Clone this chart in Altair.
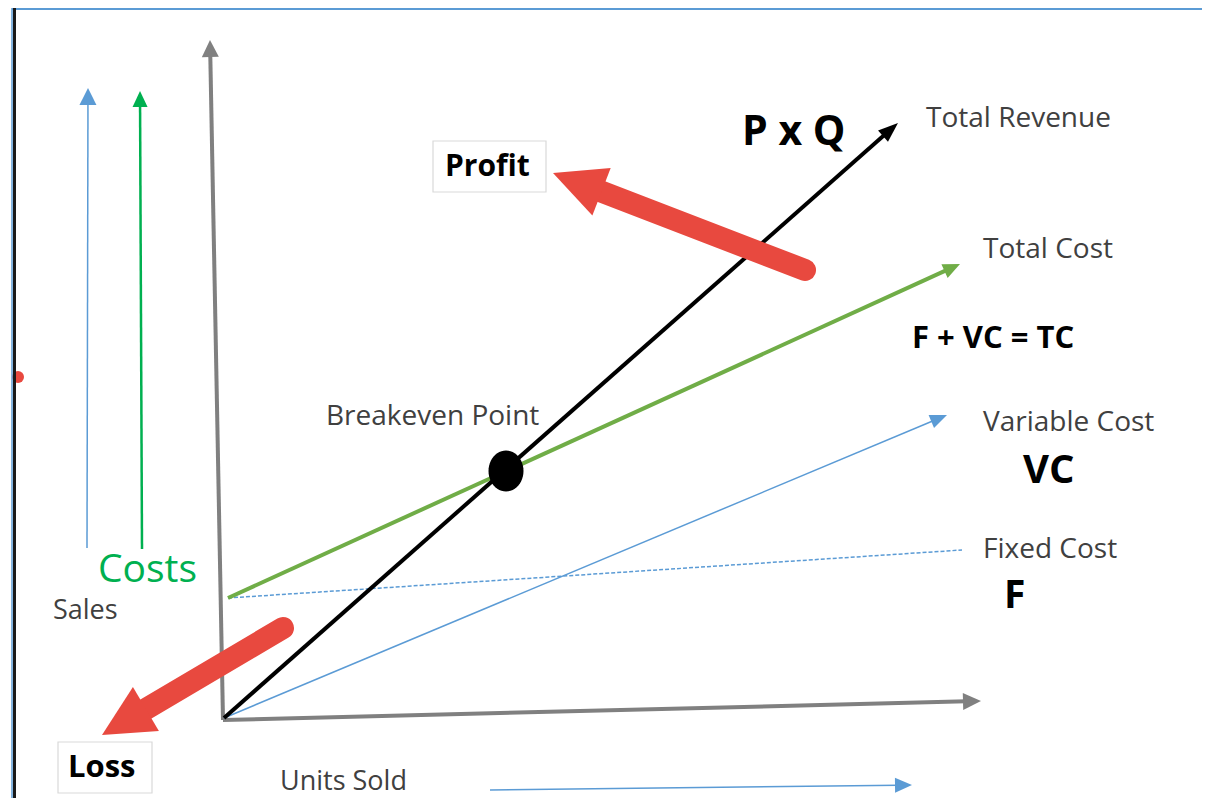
import math
import numpy as np
import pandas as pd
import altair as alt

# ---------------- canvas frame (diagram units: x right, y down) ----------------
X_DOMAIN = [8, 1202]
Y_DOMAIN = [8, 798]
W, H = 1194, 790

# ---------------- data ----------------
# Arrows drawn as a shaft plus a triangular head
arrow_names = ["Sales", "Costs", "Y axis", "X axis", "Units Sold",
               "Variable Cost", "Total Cost", "Total Revenue"]
arrow_tail_x = [87, 142, 223, 223, 490, 224, 228, 224]
arrow_tail_y = [548, 549, 720, 720, 790, 718, 598, 718]
arrow_tip_x = [88, 140, 210, 981, 912, 947, 960, 898]
arrow_tip_y = [88, 91, 40, 701, 785, 415, 264, 123]
arrow_head_len = [17, 16, 17, 18, 17, 17, 17, 20]
arrow_head_wid = [17, 15, 17, 17, 15, 14, 15, 15]

# Fixed cost line (dashed, no head)
fixed_x = [228, 962]
fixed_y = [598, 550]

# Big red annotation arrows
red_names = ["Profit", "Loss"]
red_tail_x = [805, 283]
red_tail_y = [270, 628]
red_tip_x = [553, 102]
red_tip_y = [173, 735]
red_head_len = [52, 51]
red_head_wid = [51, 51]

# Breakeven point
bep_x = [506]
bep_y = [471]

# Stray red dot on the left border
dot_x = [18]
dot_y = [377]

# Label boxes
box_names = ["Profit", "Loss"]
box_x0 = [433, 58]
box_x1 = [546, 152]
box_y0 = [141, 742]
box_y1 = [192, 793]

# Labels
reg_labels = ["Total Revenue", "Total Cost", "Variable Cost", "Fixed Cost",
              "Breakeven Point", "Sales", "Units Sold", "Costs"]
reg_x = [926, 983, 983, 983, 326, 53, 280, 98]
reg_y = [127, 258, 431, 558, 425, 619, 790, 582]
bold_labels = ["Profit", "Loss", "P x Q", "F + VC = TC", "VC", "F"]
bold_x = [445, 68, 742, 912, 1023, 1004]
bold_y = [176, 777, 145, 348, 483, 608]

# ---------------- styles ----------------
arrow_style = {
    "Sales": ("#5B9BD5", 1.5), "Costs": ("#00B050", 2.5),
    "Y axis": ("#808080", 4), "X axis": ("#808080", 4),
    "Units Sold": ("#5B9BD5", 1.5), "Variable Cost": ("#5B9BD5", 1.5),
    "Total Cost": ("#70AD47", 4), "Total Revenue": ("#000000", 4),
}
RED = "#E8493F"
reg_style = {"Costs": ("#00B050", 39)}
reg_default = ("#404040", 28)
reg_sizes = {"Sales": 27, "Units Sold": 27}
bold_sizes = {"Profit": 30, "Loss": 31, "P x Q": 41, "F + VC = TC": 31, "VC": 40, "F": 39}
FONT = "Open Sans"


def build_arrows(names, tx, ty, px, py, hl, hw, inset=0.8):
    rows = []
    for n, a, b, c, d, L, Wd in zip(names, tx, ty, px, py, hl, hw):
        dx, dy = c - a, d - b
        ln = math.hypot(dx, dy)
        ux, uy = dx / ln, dy / ln
        ang = math.degrees(math.atan2(dx, -dy)) % 360
        rows.append(dict(
            name=n, x=a, y=b, x2=c - ux * L * inset, y2=d - uy * L * inset,
            hx=c, hy=d, ang=ang, size=L * L,
            path=f"M0,0L{Wd / L:.4f},2L{-Wd / L:.4f},2Z",
        ))
    return pd.DataFrame(rows)


arrows = build_arrows(arrow_names, arrow_tail_x, arrow_tail_y, arrow_tip_x,
                      arrow_tip_y, arrow_head_len, arrow_head_wid)
arrows["color"] = [arrow_style[n][0] for n in arrows["name"]]
arrows["sw"] = [arrow_style[n][1] for n in arrows["name"]]

reds = build_arrows(red_names, red_tail_x, red_tail_y, red_tip_x, red_tip_y,
                    red_head_len, red_head_wid, inset=0.75)

xs = alt.Scale(domain=X_DOMAIN, nice=False, zero=False)
ys = alt.Scale(domain=Y_DOMAIN, nice=False, zero=False, reverse=True)


def X(f):
    return alt.X(f, type="quantitative", scale=xs, axis=None)


def Y(f):
    return alt.Y(f, type="quantitative", scale=ys, axis=None)


# border
border = pd.DataFrame({
    "x": [12, 12, 14.5], "y": [9, 8, 8], "x2": [1202, 12, 14.5], "y2": [9, 798, 798],
    "color": ["#5B9BD5", "#5B9BD5", "#1A1A1A"], "sw": [2, 1.5, 3],
})
dot = pd.DataFrame({"x": dot_x, "y": dot_y})
layer_dot = alt.Chart(dot).mark_point(filled=True, shape="circle", size=144,
                                      color="#E8493F", opacity=1).encode(x=X("x"), y=Y("y"))
layer_border = alt.Chart(border).mark_rule().encode(
    x=X("x"), y=Y("y"), x2="x2:Q", y2="y2:Q",
    color=alt.Color("color:N", scale=None),
    strokeWidth=alt.StrokeWidth("sw:Q", scale=None),
)

fixed = pd.DataFrame({"x": [fixed_x[0]], "y": [fixed_y[0]], "x2": [fixed_x[1]], "y2": [fixed_y[1]]})
layer_fixed = alt.Chart(fixed).mark_rule(color="#5B9BD5", strokeWidth=1.5,
                                         strokeDash=[4, 2]).encode(
    x=X("x"), y=Y("y"), x2="x2:Q", y2="y2:Q")

layer_shafts = alt.Chart(arrows).mark_rule().encode(
    x=X("x"), y=Y("y"), x2="x2:Q", y2="y2:Q",
    color=alt.Color("color:N", scale=None),
    strokeWidth=alt.StrokeWidth("sw:Q", scale=None),
)
layer_heads = alt.Chart(arrows).mark_point(filled=True, opacity=1, strokeWidth=0).encode(
    x=X("hx"), y=Y("hy"),
    shape=alt.Shape("path:N", scale=None),
    angle=alt.Angle("ang:Q", scale=None),
    size=alt.Size("size:Q", scale=None),
    color=alt.Color("color:N", scale=None),
)

# breakeven ellipse
t = np.linspace(0, 2 * np.pi, 48, endpoint=False)
ell_path = "M" + "L".join(f"{0.854 * math.cos(a):.4f},{math.sin(a):.4f}" for a in t) + "Z"
bep = pd.DataFrame({"x": bep_x, "y": bep_y})
layer_bep = alt.Chart(bep).mark_point(filled=True, opacity=1, color="#000000",
                                      shape=ell_path, size=41 * 41, strokeWidth=0).encode(
    x=X("x"), y=Y("y"))

layer_red_shafts = alt.Chart(reds).mark_rule(color=RED, strokeWidth=22, strokeCap="round").encode(
    x=X("x"), y=Y("y"), x2="x2:Q", y2="y2:Q")
layer_red_heads = alt.Chart(reds).mark_point(filled=True, opacity=1, color=RED, strokeWidth=0).encode(
    x=X("hx"), y=Y("hy"),
    shape=alt.Shape("path:N", scale=None),
    angle=alt.Angle("ang:Q", scale=None),
    size=alt.Size("size:Q", scale=None),
)

boxes = pd.DataFrame({"name": box_names, "x": box_x0, "x2": box_x1, "y": box_y0, "y2": box_y1})
layer_boxes = alt.Chart(boxes).mark_rect(fill="#FFFFFF", stroke="#D9D9D9", strokeWidth=1.2).encode(
    x=X("x"), x2="x2:Q", y=Y("y"), y2="y2:Q")

reg = pd.DataFrame({"label": reg_labels, "x": reg_x, "y": reg_y})
reg["color"] = [reg_style.get(n, reg_default)[0] for n in reg_labels]
reg["fs"] = [reg_style.get(n, (None, reg_sizes.get(n, reg_default[1])))[1] for n in reg_labels]
layer_reg = alt.Chart(reg).mark_text(font=FONT, align="left", baseline="alphabetic").encode(
    x=X("x"), y=Y("y"), text="label:N",
    color=alt.Color("color:N", scale=None),
    size=alt.Size("fs:Q", scale=None),
)

bold = pd.DataFrame({"label": bold_labels, "x": bold_x, "y": bold_y})
bold["fs"] = [bold_sizes[n] for n in bold_labels]
layer_bold = alt.Chart(bold).mark_text(font=FONT, fontWeight="bold", align="left",
                                       baseline="alphabetic", color="#000000").encode(
    x=X("x"), y=Y("y"), text="label:N",
    size=alt.Size("fs:Q", scale=None),
)

chart = alt.layer(
    layer_dot, layer_border, layer_fixed, layer_shafts, layer_heads, layer_bep,
    layer_red_shafts, layer_red_heads, layer_boxes, layer_reg, layer_bold,
).properties(
    width=W, height=H, padding=0, background="#FFFFFF",
    autosize=alt.AutoSizeParams(type="none"),
).configure_view(stroke=None)

chart.save("out.html", embed_options={"renderer": "svg", "actions": False})
